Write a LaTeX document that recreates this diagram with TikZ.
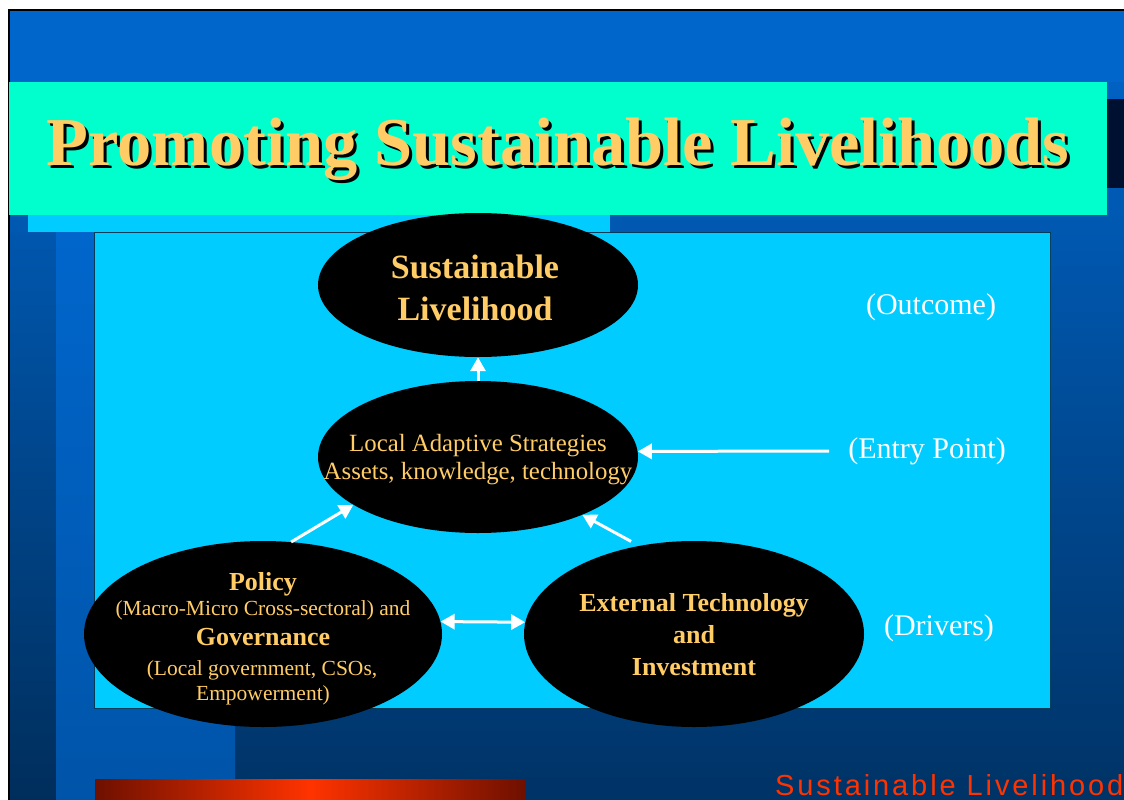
\documentclass[tikz,border=0pt]{standalone}
\usepackage{fontspec}
\setmainfont{Liberation Serif}
\newfontfamily\footfont[LetterSpace=10]{Liberation Sans}
\usetikzlibrary{shapes.geometric,arrows.meta}
\definecolor{gold}{HTML}{FFCC66}
\definecolor{slideblue}{HTML}{0066CC}
\definecolor{slidedark}{HTML}{003366}
\definecolor{aqua}{HTML}{00FFCC}
\definecolor{skyc}{HTML}{00CCFF}
\definecolor{footred}{HTML}{FF3300}
\definecolor{navy}{HTML}{001030}
\definecolor{panelline}{HTML}{003C5A}
\definecolor{barred}{HTML}{6E1000}
\tikzset{
  blob/.style={ellipse, fill=black, draw=none, inner sep=0pt},
  gtext/.style={text=gold, align=center, inner sep=0pt},
  lbl/.style={text=white, inner sep=0pt, font=\fontsize{30}{32}\selectfont},
  warrow/.style={draw=white, line width=3pt, -{Triangle[length=14pt,width=15pt]}},
  wdarrow/.style={draw=white, line width=3pt, {Triangle[length=14pt,width=15pt]}-{Triangle[length=14pt,width=15pt]}},
}
\begin{document}
\begin{tikzpicture}[x=1pt,y=-1pt]
\useasboundingbox (0,0) rectangle (1124,800);
\clip (0,0) rectangle (1124,800);
% page background
\fill[white] (0,0) rectangle (1124,800);
\shade[top color=slideblue, bottom color=slidedark] (9,10) rectangle (1124,800);
\fill[slideblue] (9,10) rectangle (1124,82);
\shade[top color=slideblue!85!black, bottom color=slidedark!90!black] (9,232) rectangle (56,800);
\shade[top color=slideblue, bottom color=slideblue!65!slidedark] (56,232) rectangle (235,800);
\draw[black, line width=2pt] (9,800) -- (9,10) -- (1124,10);
% title band
\fill[navy] (1100,99) rectangle (1124,188);
\fill[aqua] (9,82) rectangle (1107,215);
\fill[skyc] (28,215) rectangle (610,232);
\node[text=black, font=\bfseries\fontsize{68.5}{72}\selectfont, inner sep=0pt] (titleshadow) at (561,152) {Promoting Sustainable Livelihoods};
\node[text=gold, font=\bfseries\fontsize{68.5}{72}\selectfont, inner sep=0pt] (title) at (558,149) {Promoting Sustainable Livelihoods};
% main panel
\fill[skyc, draw=panelline, line width=1pt] (94,232) rectangle (1050,708);
% ellipses
\node[blob, minimum width=320pt, minimum height=144pt] (top) at (478,285) {};
\node[blob, minimum width=320pt, minimum height=152pt] (mid) at (478,457) {};
\node[blob, minimum width=358pt, minimum height=186pt] (left) at (263,634) {};
\node[blob, minimum width=340pt, minimum height=186pt] (right) at (694,634) {};
% ellipse texts
\node[gtext, font=\bfseries\fontsize{34}{42}\selectfont] (toptext) at (475,288) {Sustainable\\Livelihood};
\node[gtext, font=\fontsize{24.8}{28}\selectfont] (midtext) at (478,460) {Local Adaptive Strategies\\Assets, knowledge, technology};
\node[gtext, anchor=base, font=\bfseries\fontsize{26}{28}\selectfont] (pol) at (263,590) {Policy};
\node[gtext, anchor=base, font=\fontsize{21.5}{24}\selectfont] (macro) at (263,615) {(Macro-Micro Cross-sectoral) and};
\node[gtext, anchor=base, font=\bfseries\fontsize{26}{28}\selectfont] (gov) at (263,645) {Governance};
\node[gtext, anchor=base, font=\fontsize{21.5}{24}\selectfont] (locg) at (262,675) {(Local government, CSOs,};
\node[gtext, anchor=base, font=\fontsize{21.5}{24}\selectfont] (emp) at (263,700) {Empowerment)};
\node[gtext, font=\bfseries\fontsize{26}{32}\selectfont] (righttext) at (694,635) {External Technology\\and\\Investment};
% labels
\node[lbl] (outcome) at (931,307) {(Outcome)};
\node[lbl] (entry) at (927,451) {(Entry Point)};
\node[lbl] (drivers) at (939,628) {(Drivers)};
% arrows
\draw[warrow] (mid.north) -- (top.south);
\draw[warrow] ([xshift=-19pt]entry.west) -- (mid.2);
\draw[warrow] (left.73.6) -- (mid.201.6);
\draw[warrow] ([yshift=6pt]right.126.6) -- (mid.-29);
\draw[wdarrow] (left.4) -- (right.176);
% footer
\shade[left color=barred, right color=barred, middle color=footred] (95,779) rectangle (525,800);
\node[text=footred, anchor=base west, inner sep=0pt, font=\footfont\fontsize{29}{30}\selectfont] (foot) at (775,795) {Sustainable Livelihood};
\end{tikzpicture}
\end{document}
